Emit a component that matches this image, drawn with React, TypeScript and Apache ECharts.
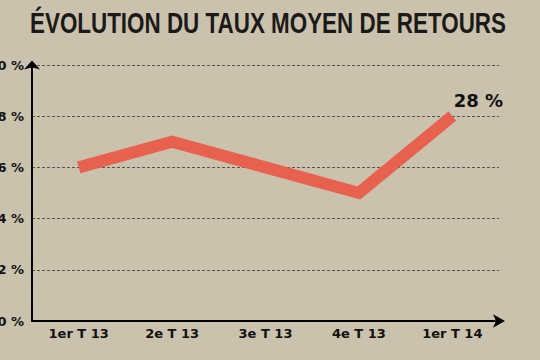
import React, { useEffect, useRef } from "react";
import * as echarts from "echarts";

const titleText = "ÉVOLUTION DU TAUX MOYEN DE RETOURS";
const categories = ["1er T 13", "2e T 13", "3e T 13", "4e T 13", "1er T 14"];
const values = [26, 27, 26, 25, 28];
const yMin = 20;
const yMax = 30;
const yInterval = 2;

const TITLE_FONT = "bold 29px 'Liberation Sans', Arial, sans-serif";
const TITLE_WIDTH = 476;

function measure(text: string, font: string): number {
  const c = document.createElement("canvas");
  const ctx = c.getContext("2d");
  if (!ctx) return TITLE_WIDTH;
  ctx.font = font;
  return ctx.measureText(text).width;
}

export default function App() {
  const ref = useRef<HTMLDivElement>(null);
  useEffect(() => {
    if (!ref.current) return;
    const chart = echarts.init(ref.current, null, { renderer: "svg" });
    const lastIdx = values.length - 1;
    const w = measure(titleText, TITLE_FONT);
    const sx = TITLE_WIDTH / w;
    chart.setOption({
      animation: false,
      backgroundColor: "#cac2ad",
      graphic: [
        {
          type: "text",
          x: 30,
          y: 8,
          scaleX: sx,
          style: {
            text: titleText,
            font: TITLE_FONT,
            fill: "#1c1a18",
            textAlign: "left",
            textVerticalAlign: "top",
          },
        },
      ],
      grid: { left: 32, right: 41, top: 65, bottom: 39, containLabel: false, outerBoundsMode: "none" },
      xAxis: {
        type: "category",
        data: categories,
        boundaryGap: true,
        axisLine: {
          show: true,
          symbol: ["none", "arrow"],
          symbolSize: [10, 12],
          symbolOffset: [0, 6],
          lineStyle: { color: "#000", width: 2 },
        },
        axisTick: { show: false },
        axisLabel: {
          margin: 6,
          color: "#111",
          fontFamily: "'DejaVu Sans', sans-serif",
          fontWeight: "bold",
          fontSize: 13,
        },
      },
      yAxis: {
        type: "value",
        min: yMin,
        max: yMax,
        interval: yInterval,
        axisLine: {
          show: true,
          symbol: ["none", "arrow"],
          symbolSize: [12, 9],
          symbolOffset: [0, 4.5],
          lineStyle: { color: "#000", width: 2 },
        },
        axisTick: { show: false },
        axisLabel: {
          margin: 8,
          color: "#111",
          fontFamily: "'DejaVu Sans', sans-serif",
          fontWeight: "bold",
          fontSize: 13,
          formatter: "{value} %",
        },
        splitLine: {
          show: true,
          lineStyle: { color: "#555", width: 1, type: [3, 2] },
        },
      },
      series: [
        {
          type: "line",
          data: values.map((v, i) =>
            i === lastIdx
              ? {
                  value: v,
                  label: {
                    show: true,
                    position: "top",
                    offset: [26, -2],
                    formatter: "{c} %",
                    fontFamily: "'DejaVu Sans', sans-serif",
                    fontWeight: "bold",
                    fontSize: 18,
                    color: "#111",
                  },
                }
              : v
          ),
          symbol: "circle",
          symbolSize: 0.1,
          showSymbol: true,
          itemStyle: { color: "#e8604e" },
          lineStyle: { color: "#e8604e", width: 12, cap: "butt", join: "miter" },
        },
      ],
    });
    return () => chart.dispose();
  }, []);
  return <div ref={ref} style={{ width: 540, height: 360, position: "absolute", left: 0, top: 0 }} />;
}
